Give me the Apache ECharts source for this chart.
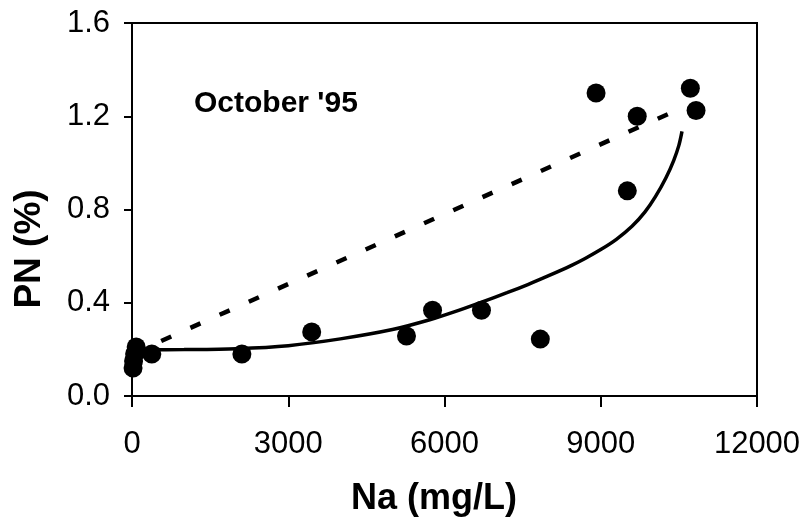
<!DOCTYPE html>
<html>
<head>
<meta charset="utf-8">
<script src="https://cdn.jsdelivr.net/npm/echarts@6/dist/echarts.min.js"></script>
<style>
html,body{margin:0;padding:0;background:#fff;}
#chart{width:809px;height:521px;}
</style>
</head>
<body>
<div id="chart"></div>
<script>
// Observed points: [Na (mg/L), PN (%)]
var observed = [
  [20, 0.12], [30, 0.15], [50, 0.18], [80, 0.21],
  [380, 0.18], [2110, 0.18], [3450, 0.275],
  [5270, 0.257], [5770, 0.368], [6710, 0.368], [7840, 0.244],
  [8910, 1.30], [9510, 0.88], [9700, 1.20], [10720, 1.32], [10830, 1.225]
];
// Dashed (linear) trend line endpoints
var linearFit = [[0, 0.18], [10400, 1.22]];
// Solid curve fit
var curveFit = [
  [200, 0.198], [1000, 0.199], [2000, 0.203], [3000, 0.216], [4000, 0.245],
  [5000, 0.285], [5700, 0.326], [6200, 0.362], [6700, 0.402], [7200, 0.443],
  [7600, 0.478], [8000, 0.516], [8400, 0.556], [8700, 0.590], [9000, 0.628],
  [9300, 0.672], [9600, 0.728], [9850, 0.790], [10050, 0.855], [10250, 0.935],
  [10400, 1.010], [10500, 1.075], [10560, 1.135]
];
var xTicks = [0, 3000, 6000, 9000, 12000];
var yTicks = [0.0, 0.4, 0.8, 1.2, 1.6];

var FONT = "'Liberation Sans', Arial, sans-serif";
var chart = echarts.init(document.getElementById('chart'), null, {renderer: 'canvas'});
chart.setOption({
  animation: false,
  backgroundColor: '#fff',
  grid: {left: 132, right: 52, top: 23, bottom: 125, show: true, borderColor: '#000', borderWidth: 2, backgroundColor: 'transparent'},
  xAxis: {
    type: 'value', min: xTicks[0], max: xTicks[xTicks.length - 1], interval: 3000,
    axisLine: {show: true, lineStyle: {color: '#000', width: 2}},
    axisTick: {show: true, inside: false, length: 11, lineStyle: {color: '#000', width: 2}},
    axisLabel: {margin: 33, fontFamily: FONT, fontSize: 31, color: '#000',
      formatter: function (v) { return String(v); }},
    splitLine: {show: false}
  },
  yAxis: {
    type: 'value', min: yTicks[0], max: yTicks[yTicks.length - 1], interval: 0.4,
    axisLine: {show: true, lineStyle: {color: '#000', width: 2}},
    axisTick: {show: true, inside: false, length: 8, lineStyle: {color: '#000', width: 2}},
    axisLabel: {margin: 22, fontFamily: FONT, fontSize: 31, color: '#000',
      formatter: function (v) { return v.toFixed(1); }},
    splitLine: {show: false}
  },
  graphic: [
    {type: 'text', left: 194, top: 89,
      style: {text: "October '95", fontFamily: FONT, fontSize: 30, fontWeight: 'bold', fill: '#000'}},
    {type: 'text', x: 434, y: 499,
      style: {text: 'Na (mg/L)', fontFamily: FONT, fontSize: 36, fontWeight: 'bold', fill: '#000',
        textAlign: 'center', textVerticalAlign: 'middle'}},
    {type: 'text', x: 30, y: 249, rotation: Math.PI / 2,
      style: {text: 'PN (%)', fontFamily: FONT, fontSize: 37, fontWeight: 'bold', fill: '#000',
        textAlign: 'center', textVerticalAlign: 'middle'}}
  ],
  series: [
    {type: 'line', data: linearFit, symbol: 'none', silent: true, z: 2,
      lineStyle: {color: '#000', width: 4.5, type: [11, 21]}},
    {type: 'line', data: curveFit, symbol: 'none', smooth: 0.3, silent: true, z: 2,
      lineStyle: {color: '#000', width: 3.5}},
    {type: 'scatter', data: observed, symbol: 'circle', symbolSize: 19, z: 3,
      itemStyle: {color: '#000', opacity: 1}}
  ]
});
</script>
</body>
</html>
